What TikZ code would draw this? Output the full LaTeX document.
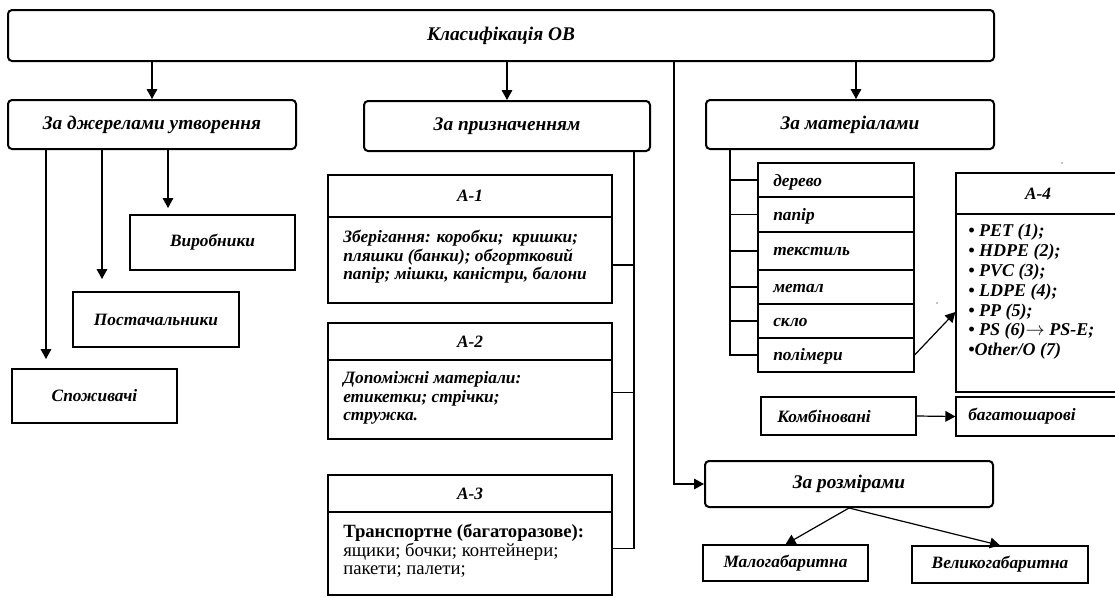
\documentclass[tikz,border=0pt]{standalone}
\usepackage{fontspec}
\setmainfont{Liberation Serif}
\usetikzlibrary{arrows.meta,calc}
\begin{document}
\begin{tikzpicture}[x=0.75pt,y=-0.75pt,
  place/.style n args={4}{minimum width={(#3-#1)*0.75pt},
    minimum height={(#4-#2)*0.75pt}, at={({(#1+#3)/2},{(#2+#4)/2})}},
  headbox/.style={draw, rounded corners=3pt, line width=1.5pt, inner sep=0pt,
    font=\fontsize{14.5}{16}\selectfont\bfseries\itshape},
  plainbox/.style={draw, line width=0.9pt, inner sep=0pt,
    font=\fontsize{13}{15}\selectfont\bfseries\itshape},
  rowbox/.style={draw, line width=0.9pt, inner sep=0pt},
  lbl/.style={inner sep=0pt, anchor=west, align=left,
    font=\fontsize{13}{15}\selectfont\bfseries\itshape},
  link/.style={line width=0.9pt},
  arr/.style={line width=0.9pt, -{Triangle[length=7.5pt,width=8pt]}},
]
\useasboundingbox (0,0) rectangle (1115,597);
\clip (0,0) rectangle (1115,597);

% main categories
\node[headbox, place={8}{10}{994}{61}] (root) {Класифікація ОВ};
\node[headbox, place={8}{100}{296}{149}] (src) {За джерелами утворення};
\node[headbox, place={364}{101}{650}{151}] (purp) {За призначенням};
\node[headbox, place={706}{100}{994}{149}] (mat) {За матеріалами};
\node[headbox, place={705}{461}{993}{507}] (size) {За розмірами};

% by source
\node[plainbox, place={130}{215}{295}{270}] (vyr) {Виробники};
\node[plainbox, place={73}{292}{239}{347}] (post) {Постачальники};
\node[plainbox, place={12}{369}{177}{423}] (spoz) {Споживачі};

% by purpose
\node[plainbox, place={328}{175}{612}{217}] (a1h) {A-1};
\node[rowbox, place={328}{217}{612}{303}] (a1b) {};
\node[lbl, font=\fontsize{13}{13.9}\selectfont\bfseries\itshape] (a1t) at (343,257)
  {Зберігання: коробки;\ \ кришки;\\пляшки (банки); обгортковий\\папір; мішки, каністри, балони};

\node[plainbox, place={328}{323}{612}{360}] (a2h) {A-2};
\node[rowbox, place={328}{360}{612}{439}] (a2b) {};
\node[lbl, font=\fontsize{13}{13.9}\selectfont\bfseries\itshape] (a2t) at (343,398)
  {Допоміжні матеріали:\\етикетки; стрічки;\\стружка.};

\node[plainbox, place={328}{475}{612}{512}] (a3h) {A-3};
\node[rowbox, place={328}{512}{612}{595}] (a3b) {};
\node[lbl, font=\fontsize{14}{13.9}\selectfont] (a3t) at (343,551)
  {\textbf{Транспортне (багаторазове):}\\ящики; бочки; контейнери;\\пакети; палети;};

% by material
\node[rowbox, place={758}{163}{914}{197}] (m1) {};
\node[rowbox, place={758}{197}{914}{232}] (m2) {};
\node[rowbox, place={758}{232}{914}{270}] (m3) {};
\node[rowbox, place={758}{270}{914}{304}] (m4) {};
\node[rowbox, place={758}{304}{914}{338}] (m5) {};
\node[rowbox, place={758}{338}{914}{372}] (m6) {};
\node[lbl] (m1t) at (773,182) {дерево};
\node[lbl] (m2t) at (773,216) {папір};
\node[lbl] (m3t) at (773,252) {текстиль};
\node[lbl] (m4t) at (773,288) {метал};
\node[lbl] (m5t) at (773,322) {скло};
\node[lbl] (m6t) at (773,356) {полімери};

\node[plainbox, place={956}{173}{1120}{214}] (a4h) {A-4};
\node[rowbox, place={956}{214}{1120}{392}] (a4b) {};
\node[lbl, font=\fontsize{13.5}{14.85}\selectfont\bfseries\itshape] (a4t) at (968,292)
  {• PET (1);\\• HDPE (2);\\• PVC (3);\\• LDPE (4);\\• PP (5);\\• PS (6)$\rightarrow$ PS-E;\\•Other/O (7)};

\node[rowbox, place={761}{397}{916}{435}] (komb) {};
\node[lbl] (kombt) at (777,416) {Комбіновані};
\node[rowbox, place={956}{397}{1120}{436}] (bag) {};
\node[lbl] (bagt) at (968,416) {багатошарові};

% by size
\node[plainbox, place={703}{545}{868}{581}] (mal) {Малогабаритна};
\node[plainbox, place={912}{546}{1088}{583}] (vel) {Великогабаритна};

% connectors from the root
\draw[arr] (root.south -| src.north) -- (src.north);
\draw[arr] (root.south -| purp.north) -- (purp.north);
\coordinate (matin) at ($(mat.north)+(6,0)$);
\draw[arr] (root.south -| matin) -- (matin);
\coordinate (szx) at (674,0);
\draw[arr] (root.south -| szx) |- (size.west);

% source branches
\coordinate (cV) at (168,208);
\coordinate (cP) at (102,279);
\coordinate (cS) at (46,359);
\draw[arr] (src.south -| cV) -- (cV);
\draw[arr] (src.south -| cP) -- (cP);
\draw[arr] (src.south -| cS) -- (cS);

% purpose trunk
\coordinate (pt) at (634,0);
\coordinate (k1) at ($(a1b.east)+(0,5)$);
\coordinate (k2) at ($(a2b.east)+(0,-7)$);
\coordinate (k3) at ($(a3b.east)+(0,-5)$);
\draw[link] (purp.south -| pt) |- (k3);
\draw[link] (pt |- k1) -- (k1);
\draw[link] (pt |- k2) -- (k2);

% material trunk
\coordinate (mt) at (730,0);
\draw[link] (mat.south -| mt) |- (m6.west);
\foreach \m in {m1,m2,m3,m4,m5} \draw[link] (mt |- \m.west) -- (\m.west);
\draw[arr] (m6.east) -- ($(a4b.west)+(0,9)$);
\draw[arr] (komb.east) -- (bag.west);

% size branches
\draw[arr] (size.south) -- (mal.north);
\draw[arr] (size.south) -- (vel.north);

% specks
\fill (1062,163) circle (0.5pt);
\fill (937,303) circle (0.5pt);
\end{tikzpicture}
\end{document}
